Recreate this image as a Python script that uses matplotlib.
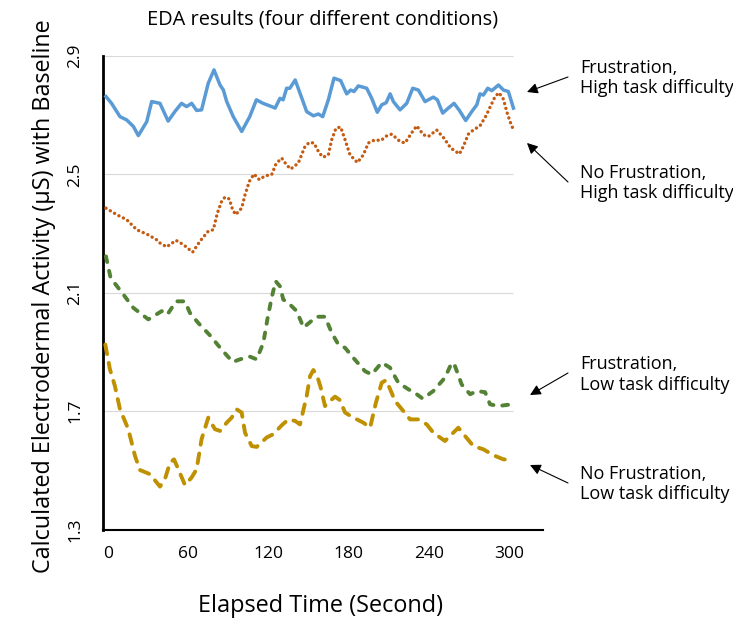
import matplotlib
matplotlib.use("Agg")
import matplotlib.pyplot as plt

plt.rcParams['font.family'] = ['Open Sans', 'DejaVu Sans']

# EDA readings (seconds, microsiemens) for the four conditions
blue_t = [-1.5, 2.7, 9, 14, 19, 22.7, 29, 32.7, 38.9, 45, 50, 55, 58.8, 62.6, 66.3, 70, 75, 79.3,
          83.8, 86.3, 88.8, 93.7, 100, 106, 111, 116, 122.4, 125, 128.6, 131, 133.6, 136, 140, 145,
          148.6, 153.6, 157.3, 160.6, 164.8, 169, 174, 178.5, 181.5, 184, 187.2, 193.5, 197.2, 201.4,
          204.7, 208, 211, 213.4, 218.4, 223.4, 227.9, 232.1, 237.1, 243.3, 246.3, 250.3, 254.5,
          258.8, 262.8, 267.5, 272, 275.8, 278.2, 280.7, 284, 287, 292, 295.7, 299.4, 303.2]
blue_v = [2.763, 2.74, 2.695, 2.684, 2.662, 2.631, 2.678, 2.746, 2.74, 2.68, 2.712, 2.74, 2.729, 2.74,
          2.716, 2.718, 2.808, 2.853, 2.802, 2.785, 2.746, 2.695, 2.645, 2.695, 2.752, 2.74, 2.729,
          2.724, 2.757, 2.752, 2.791, 2.791, 2.819, 2.757, 2.712, 2.698, 2.704, 2.695, 2.752, 2.825,
          2.817, 2.772, 2.785, 2.78, 2.799, 2.791, 2.757, 2.71, 2.735, 2.742, 2.772, 2.746, 2.718,
          2.74, 2.791, 2.785, 2.746, 2.761, 2.752, 2.707, 2.724, 2.74, 2.716, 2.682, 2.712, 2.735,
          2.772, 2.768, 2.791, 2.783, 2.802, 2.785, 2.78, 2.724]

orange_t = [-1.5, 6.5, 14, 21.5, 30, 36.4, 38.9, 43.9, 50.9, 56.3, 63.3, 68.8, 75, 78.8, 81.8, 85,
            87.5, 90.7, 93.2, 95.5, 100, 102.5, 105.7, 109.2, 113.2, 117.4, 122.4, 125.7, 129.9,
            133.6, 136.6, 142.3, 147.3, 150.6, 154, 158, 161, 164.8, 167.3, 170.5, 174, 177.3, 181,
            186.5, 191, 194.7, 199.7, 204, 208.4, 212.2, 218.4, 222.1, 227.2, 230.9, 235.8, 239.6,
            245.8, 251.3, 256.3, 262.8, 265.7, 269.5, 273.2, 278.2, 282.7, 285.7, 289.5, 292.4,
            295.7, 298.2, 300.7, 303.2]
orange_v = [2.386, 2.364, 2.347, 2.313, 2.296, 2.279, 2.268, 2.255, 2.277, 2.263, 2.237, 2.274,
            2.308, 2.313, 2.369, 2.409, 2.423, 2.417, 2.381, 2.364, 2.386, 2.431, 2.476, 2.501,
            2.482, 2.495, 2.499, 2.536, 2.555, 2.532, 2.518, 2.538, 2.594, 2.608, 2.606, 2.572,
            2.558, 2.566, 2.617, 2.656, 2.66, 2.617, 2.566, 2.54, 2.566, 2.606, 2.617, 2.614, 2.63,
            2.636, 2.611, 2.606, 2.641, 2.664, 2.634, 2.628, 2.65, 2.622, 2.589, 2.569, 2.594,
            2.636, 2.65, 2.664, 2.698, 2.727, 2.763, 2.776, 2.754, 2.712, 2.678, 2.65]

green_t = [-1.5, 2, 10.2, 19, 30.2, 40.2, 44.4, 50.9, 57.6, 61.3, 67.5, 76.3, 85, 93.3, 98.7, 106.2,
           111.2, 116.2, 119.2, 122.4, 125.4, 128.6, 131.1, 134.8, 141.1, 146.3, 149.8, 156.1,
           162.3, 167.3, 172.3, 177.3, 183.5, 192.2, 197.2, 204.7, 210.9, 217.1, 224.6, 230.9,
           235.4, 243.3, 252, 257.1, 259.5, 264.5, 270.8, 275.8, 282, 285.7, 292, 298.2, 301]
green_v = [2.223, 2.15, 2.102, 2.049, 2.01, 2.038, 2.026, 2.071, 2.071, 2.032, 1.998, 1.956, 1.908,
           1.866, 1.875, 1.884, 1.875, 1.931, 2.01, 2.083, 2.139, 2.122, 2.077, 2.066, 2.038, 1.982,
           1.996, 2.019, 2.019, 1.965, 1.925, 1.914, 1.88, 1.835, 1.824, 1.864, 1.847, 1.796,
           1.774, 1.757, 1.742, 1.768, 1.813, 1.864, 1.852, 1.79, 1.757, 1.768, 1.764, 1.723,
           1.717, 1.721, 1.722]

yellow_t = [-2, 1.5, 5.2, 9, 15.2, 20.2, 23.9, 31.4, 38.9, 42.6, 46.4, 49.4, 52.6, 57.6, 62.6,
            66.3, 70, 75, 80, 83.8, 88.8, 92.5, 96.3, 100, 102.5, 107.5, 111.2, 118.7, 123.6,
            129.9, 134.9, 139.9, 143.6, 148.6, 151.1, 153.6, 156.5, 159.1, 162.3, 164.8, 169.8,
            173.5, 177.3, 183.5, 191, 196, 200.4, 204.7, 208, 211, 214.7, 220.9, 225.9, 232.1,
            238.4, 243.3, 252, 257.1, 262, 267, 273.2, 280.7, 288.2, 295.7, 303.2]
yellow_v = [1.925, 1.841, 1.785, 1.706, 1.639, 1.549, 1.501, 1.487, 1.445, 1.47, 1.526, 1.537,
            1.504, 1.45, 1.476, 1.504, 1.605, 1.678, 1.639, 1.633, 1.661, 1.678, 1.706, 1.695,
            1.627, 1.582, 1.579, 1.611, 1.622, 1.652, 1.672, 1.667, 1.655, 1.751, 1.818, 1.839,
            1.818, 1.779, 1.717, 1.729, 1.749, 1.737, 1.695, 1.678, 1.661, 1.644, 1.729, 1.796,
            1.805, 1.774, 1.734, 1.7, 1.672, 1.672, 1.655, 1.627, 1.599, 1.622, 1.644, 1.616,
            1.582, 1.571, 1.551, 1.537, 1.535]

x_ticks = [0, 60, 120, 180, 240, 300]
y_ticks = [1.3, 1.7, 2.1, 2.5, 2.9]

labels = [("Frustration,", "High task difficulty"),
          ("No Frustration,", "High task difficulty"),
          ("Frustration,", "Low task difficulty"),
          ("No Frustration,", "Low task difficulty")]

W, H = 733, 619


def fx(px):
    return px / W


def fy(py):
    return 1 - py / H


fig = plt.figure(figsize=(W / 100, H / 100), dpi=100)
ax = fig.add_axes([fx(103), fy(529.5), fx(543) - fx(103), fy(56) - fy(529.5)])

ax.set_xlim(-3.7, 325.3)
ax.set_ylim(1.3, 2.9)

# grid only spans the data part, like the original
for v in y_ticks[1:]:
    ax.hlines(v, -3.7, 303, color='#D9D9D9', lw=0.8, zorder=1)

ax.plot(blue_t, blue_v, color='#5B9BD5', lw=2.5, solid_joinstyle='round', zorder=3)
ax.plot(orange_t, orange_v, color='#C55A11', lw=2.4, dashes=(0.05, 1.45),
        dash_capstyle='round', zorder=3)
ax.plot(green_t, green_v, color='#548235', lw=2.8, dashes=(1.5, 2.3),
        dash_capstyle='round', zorder=3)
ax.plot(yellow_t, yellow_v, color='#BF9000', lw=2.8, dashes=(2.5, 2.3),
        dash_capstyle='round', zorder=3)

for s in ['top', 'right']:
    ax.spines[s].set_visible(False)
ax.spines['left'].set_linewidth(2.0)
ax.spines['bottom'].set_linewidth(1.5)

ax.set_xticks(x_ticks)
ax.set_yticks(y_ticks)
ax.set_yticklabels([f"{v:.1f}" for v in y_ticks], rotation=90, va='center')
ax.tick_params(axis='x', length=0, pad=12, labelsize=12.5)
ax.tick_params(axis='y', length=0, pad=14, labelsize=12.5)

fig.text(fx(323), fy(25), "EDA results (four different conditions)", ha='center',
         va='baseline', fontsize=14.4)
fig.text(fx(321), fy(612), "Elapsed Time (Second)", ha='center', va='baseline', fontsize=16.9)
fig.text(fx(50), fy(296), "Calculated Electrodermal Activity (µS) with Baseline",
         rotation=90, rotation_mode='anchor', ha='center', va='baseline', fontsize=16.8)

# side notes with arrows
baselines = [(72.7, 93.3), (178, 198.5), (369, 390.5), (479, 499)]
for (l1, l2), (b1, b2) in zip(labels, baselines):
    fig.text(fx(580), fy(b1), l1, va='baseline', fontsize=13)
    fig.text(fx(580), fy(b2), l2, va='baseline', fontsize=13)

arrows = [((568, 77), (527, 92)), ((568, 182), (527, 143)),
          ((568, 373), (530, 395)), ((568, 483), (530, 465))]
for (tx, ty), (hx, hy) in arrows:
    fig.add_artist(matplotlib.patches.FancyArrowPatch(
        (fx(tx), fy(ty)), (fx(hx), fy(hy)), transform=fig.transFigure,
        arrowstyle='-|>', mutation_scale=16, color='black', lw=0.8,
        shrinkA=0, shrinkB=0))

fig.savefig("out.png", dpi=100)
